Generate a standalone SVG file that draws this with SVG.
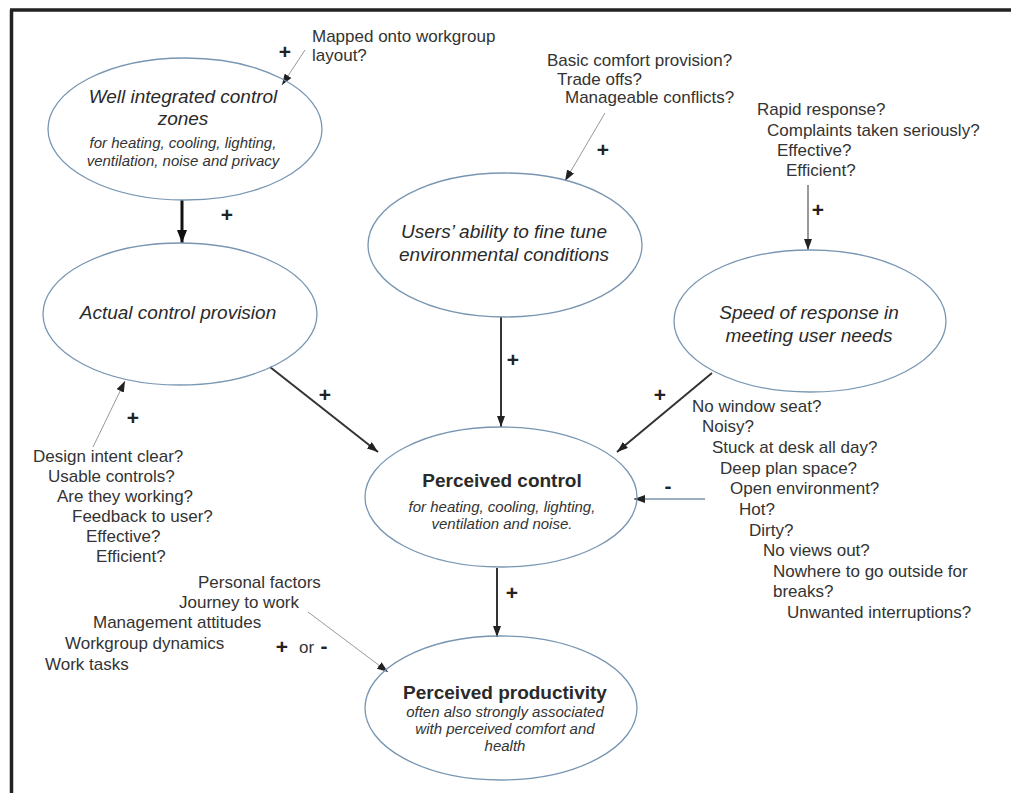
<svg xmlns="http://www.w3.org/2000/svg" width="1011" height="793" viewBox="0 0 1011 793">
<defs>
<marker id="ah" markerUnits="userSpaceOnUse" markerWidth="11" markerHeight="8" refX="11" refY="4" orient="auto"><path d="M0,0 L11,4 L0,8 z" fill="#222"/></marker>
<marker id="ahb" markerUnits="userSpaceOnUse" markerWidth="13" markerHeight="10" refX="13" refY="5" orient="auto"><path d="M0,0 L13,5 L0,10 z" fill="#111"/></marker>
<style>
.e{fill:none;stroke:#7896b2;stroke-width:1.3}
.t{font-family:"Liberation Sans",Arial,sans-serif;font-size:19px;font-style:italic;fill:#2a2a2a;text-anchor:middle}
.s{font-family:"Liberation Sans",Arial,sans-serif;font-size:15px;font-style:italic;fill:#333;text-anchor:middle}
.b{font-family:"Liberation Sans",Arial,sans-serif;font-size:19px;font-weight:bold;fill:#2a2a2a;text-anchor:middle}
.q{font-family:"Liberation Sans",Arial,sans-serif;font-size:17px;fill:#333}
.p{font-family:"Liberation Sans",Arial,sans-serif;font-size:21px;font-weight:bold;fill:#222;text-anchor:middle}
.dk{stroke:#333;stroke-width:2;fill:none;marker-end:url(#ah)}
.th{stroke:#999;stroke-width:1;fill:none;marker-end:url(#ah)}
.md{stroke:#777;stroke-width:1.5;fill:none;marker-end:url(#ah)}
</style>
</defs>
<rect width="1011" height="793" fill="#ffffff"/>
<g id="frame">
<line x1="10" y1="10" x2="1011" y2="10" stroke="#222" stroke-width="3.5"/>
<line x1="11.5" y1="10" x2="11.5" y2="793" stroke="#222" stroke-width="3.5"/>
</g>
<g id="connectors">
<line x1="182" y1="200" x2="182" y2="243" stroke="#111" stroke-width="3" marker-end="url(#ahb)"/>
<line class="th" x1="305" y1="50" x2="282" y2="85"/>
<line class="th" x1="605" y1="113" x2="565" y2="181"/>
<line class="md" x1="808" y1="185" x2="808" y2="250"/>
<line class="dk" x1="270" y1="367" x2="378" y2="452"/>
<line class="dk" x1="501" y1="317" x2="501" y2="427"/>
<line class="dk" x1="712" y1="373" x2="617" y2="452"/>
<line class="th" x1="93" y1="447" x2="125" y2="381"/>
<line stroke="#7a92a8" stroke-width="1.5" fill="none" marker-end="url(#ah)" x1="705" y1="499" x2="634" y2="499"/>
<line class="dk" x1="497" y1="568" x2="497" y2="637"/>
<line class="th" x1="308" y1="612" x2="388" y2="672"/>
</g>
<g id="signs">
<text class="p" x="285" y="59">+</text>
<text class="p" x="227" y="222">+</text>
<text class="p" x="603" y="157">+</text>
<text class="p" x="818" y="217">+</text>
<text class="p" x="325" y="402">+</text>
<text class="p" x="513" y="367">+</text>
<text class="p" x="660" y="402">+</text>
<text class="p" x="133" y="425">+</text>
<text class="p" x="512" y="600">+</text>
<text class="p" x="668" y="493">-</text>
</g>
<g id="node-zones">
<ellipse class="e" cx="185" cy="129" rx="137" ry="71"/>
<text class="t" x="183" y="103">Well integrated control</text>
<text class="t" x="183" y="125">zones</text>
<text class="s" x="183" y="148">for heating, cooling, lighting,</text>
<text class="s" x="183" y="166">ventilation, noise and privacy</text>
</g>
<g id="node-actual">
<ellipse class="e" cx="180" cy="314" rx="137" ry="71"/>
<text class="t" x="178" y="319">Actual control provision</text>
</g>
<g id="node-finetune">
<ellipse class="e" cx="505" cy="245" rx="137" ry="72"/>
<text class="t" x="504" y="238">Users’ ability to fine tune</text>
<text class="t" x="504" y="261">environmental conditions</text>
</g>
<g id="node-speed">
<ellipse class="e" cx="810" cy="321" rx="136" ry="71"/>
<text class="t" x="809" y="319">Speed of response in</text>
<text class="t" x="809" y="342">meeting user needs</text>
</g>
<g id="node-control">
<ellipse class="e" cx="501" cy="497" rx="136" ry="70"/>
<text class="b" x="502" y="487">Perceived control</text>
<text class="s" x="502" y="512">for heating, cooling, lighting,</text>
<text class="s" x="502" y="529">ventilation and noise.</text>
</g>
<g id="node-productivity">
<ellipse class="e" cx="501" cy="708" rx="136" ry="72"/>
<text class="b" x="505" y="699">Perceived productivity</text>
<text class="s" x="505" y="717">often also strongly associated</text>
<text class="s" x="505" y="734">with perceived comfort and</text>
<text class="s" x="505" y="751">health</text>
</g>
<g id="note-mapped">
<text class="q" x="312" y="42">Mapped onto workgroup</text>
<text class="q" x="312" y="61">layout?</text>
</g>
<g id="note-comfort">
<text class="q" x="547" y="66">Basic comfort provision?</text>
<text class="q" x="557" y="85">Trade offs?</text>
<text class="q" x="565" y="103">Manageable conflicts?</text>
</g>
<g id="note-response">
<text class="q" x="757" y="115">Rapid response?</text>
<text class="q" x="767" y="136">Complaints taken seriously?</text>
<text class="q" x="777" y="156">Effective?</text>
<text class="q" x="786" y="176">Efficient?</text>
</g>
<g id="note-design">
<text class="q" x="33" y="462">Design intent clear?</text>
<text class="q" x="48" y="482">Usable controls?</text>
<text class="q" x="57" y="502">Are they working?</text>
<text class="q" x="72" y="522">Feedback to user?</text>
<text class="q" x="86" y="542">Effective?</text>
<text class="q" x="96" y="562">Efficient?</text>
</g>
<g id="note-negative">
<text class="q" x="692" y="412">No window seat?</text>
<text class="q" x="702" y="432">Noisy?</text>
<text class="q" x="712" y="453">Stuck at desk all day?</text>
<text class="q" x="720" y="474">Deep plan space?</text>
<text class="q" x="730" y="494">Open environment?</text>
<text class="q" x="739" y="515">Hot?</text>
<text class="q" x="749" y="536">Dirty?</text>
<text class="q" x="763" y="556">No views out?</text>
<text class="q" x="773" y="577">Nowhere to go outside for</text>
<text class="q" x="773" y="597">breaks?</text>
<text class="q" x="787" y="618">Unwanted interruptions?</text>
</g>
<g id="note-personal">
<text class="q" x="198" y="588">Personal factors</text>
<text class="q" x="179" y="608">Journey to work</text>
<text class="q" x="93" y="628">Management attitudes</text>
<text class="q" x="65" y="649">Workgroup dynamics</text>
<text class="q" x="45" y="670">Work tasks</text>
<text class="p" x="282" y="654">+</text>
<text class="q" x="299" y="653">or</text>
<text class="p" x="324" y="653">-</text>
</g>
</svg>
